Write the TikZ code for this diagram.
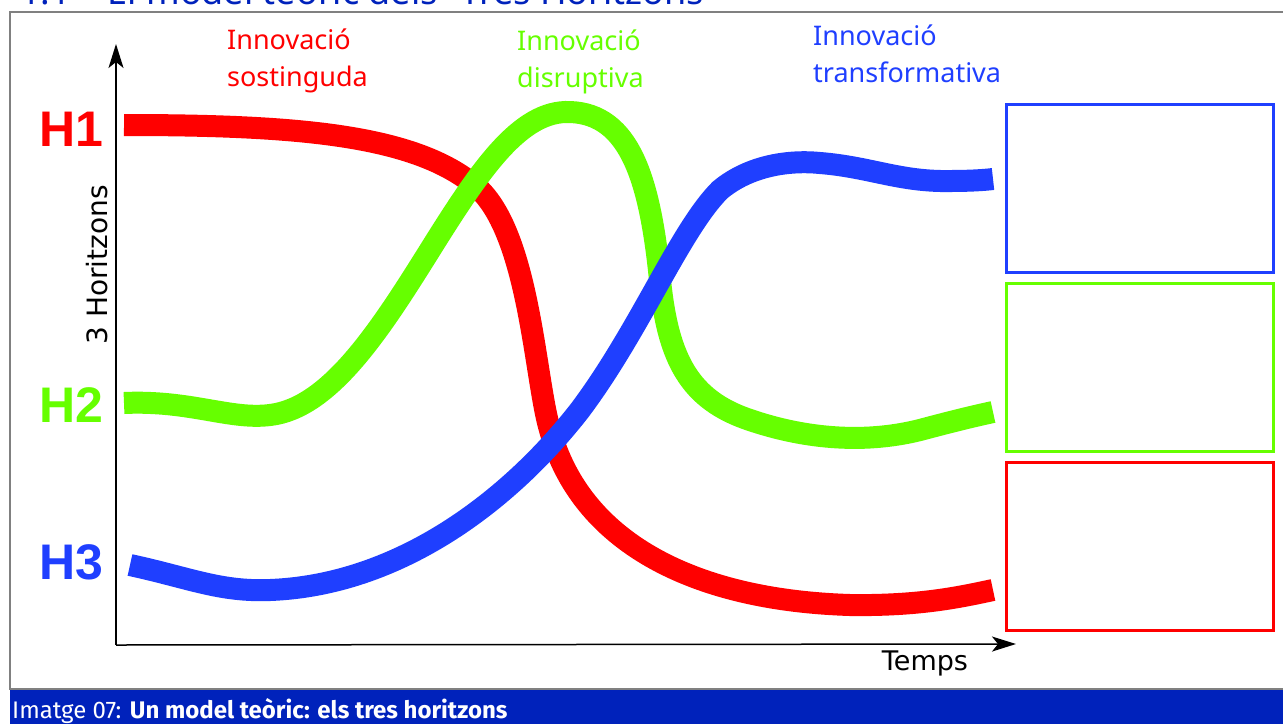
\documentclass[tikz,border=0pt]{standalone}
\usepackage{fontspec}
\setmainfont{Noto Sans}
\newfontfamily\hfont{Liberation Sans}
\newfontfamily\axfont{DejaVu Sans}
\newfontfamily\capfont{Fira Sans}
\usetikzlibrary{arrows.meta}
\definecolor{hred}{HTML}{FF0000}
\definecolor{hgreen}{HTML}{66FF00}
\definecolor{hblue}{HTML}{1F3FFF}
\definecolor{capblue}{HTML}{0022BB}
\tikzstyle{curve}=[line width=22pt]
\tikzstyle{horizon}=[font=\hfont\bfseries\fontsize{50}{50}\selectfont,inner sep=0pt]
\tikzstyle{innov}=[font=\fontsize{27}{37}\selectfont,align=left,anchor=north west,inner sep=0pt]
\tikzstyle{slot}=[line width=3pt,minimum width=267pt,minimum height=168pt,inner sep=0pt,anchor=north west]
\tikzstyle{axis}=[line width=1.5pt,-{Stealth[length=24pt,width=15pt,inset=6pt]}]

\begin{document}
\begin{tikzpicture}[x=1pt,y=-1pt]
  \useasboundingbox (0,0) rectangle (1283,724);
  \fill[white] (0,0) rectangle (1283,724);

  % title, cut by the frame
  \begin{scope}
    \clip (0,0) rectangle (1283,11);
    \node[anchor=base west,inner sep=0pt,text=capblue,font=\fontsize{36}{36}\selectfont] (title) at (20,4) {1.1 -- El model teòric dels "Tres Horitzons"};
  \end{scope}

  % frame
  \draw[gray,line width=2pt] (1283,12) -- (10,12) -- (10,689) -- (1283,689);
  \fill[capblue] (10,690) rectangle (1283,724);
  \node[anchor=base west,inner sep=0pt,text=white,font=\capfont\fontsize{24}{24}\selectfont] (caption) at (12,718) {Imatge 07: \textbf{Un model teòric: els tres horitzons}};

  % axes
  \coordinate (o) at (116,645);
  \coordinate (ytip) at (116,44);
  \coordinate (xtip) at (1016,644);
  \draw[axis] (o) -- (ytip);
  \draw[axis] (o) -- (xtip);
  \node[font=\axfont\fontsize{28}{28}\selectfont,rotate=90,inner sep=0pt] (ylab) at (97,265) {3 Horitzons};
  \node[font=\axfont\fontsize{27}{27}\selectfont,inner sep=0pt] (xlab) at (925,663) {Temps};

  % horizon labels
  \node[horizon,text=hred] (h1) at (71,129) {H1};
  \node[horizon,text=hgreen] (h2) at (71,405) {H2};
  \node[horizon,text=hblue] (h3) at (71,562) {H3};

  % innovation labels
  \node[innov,text=hred] (sost) at (227,29) {Innovació\\sostinguda};
  \node[innov,text=hgreen] (disr) at (517,30) {Innovació\\disruptiva};
  \node[innov,text=hblue] (trans) at (813,25) {Innovació\\transformativa};

  % curves
  \draw[curve,hred] (124,125) .. controls (300,125) and (420,135) .. (480,190)
    .. controls (530,240) and (535,380) .. (550,430)
    .. controls (580,540) and (690,600) .. (850,605)
    .. controls (920,606) and (960,597) .. (993,590);
  \draw[curve,hgreen] (124,403) .. controls (190,400) and (230,420) .. (270,415)
    .. controls (330,408) and (380,330) .. (430,250)
    .. controls (480,170) and (520,110) .. (570,112)
    .. controls (630,114) and (650,180) .. (660,280)
    .. controls (668,360) and (690,400) .. (750,420)
    .. controls (800,437) and (860,445) .. (920,430)
    .. controls (950,422) and (970,417) .. (993,412);
  \draw[curve,hblue] (130,565) .. controls (190,578) and (220,592) .. (270,590)
    .. controls (400,585) and (510,500) .. (580,410)
    .. controls (640,330) and (680,230) .. (720,190)
    .. controls (750,165) and (790,160) .. (820,163)
    .. controls (870,167) and (900,182) .. (950,181)
    .. controls (970,181) and (985,180) .. (993,179);

  % boxes
  \node[slot,draw=hblue] (bblue) at (1005,103) {};
  \node[slot,draw=hgreen] (bgreen) at (1005,282) {};
  \node[slot,draw=hred] (bred) at (1005,461) {};
\end{tikzpicture}
\end{document}
